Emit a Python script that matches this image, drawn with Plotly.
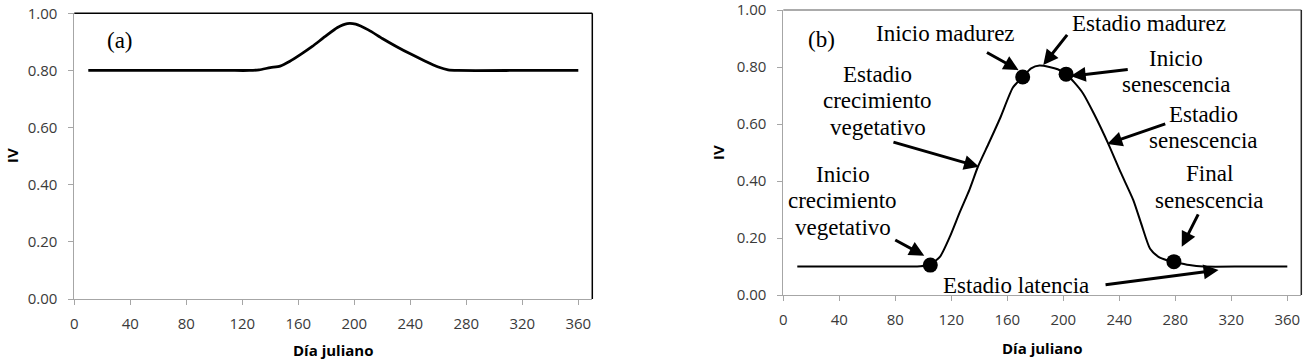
import plotly.graph_objects as go

# ---------------- data ----------------
days_a = [10, 60, 110, 125, 132, 140, 147, 154, 162, 170, 179, 188, 195, 201, 210, 220, 230, 240, 250, 260, 267, 274, 320, 360]
iv_a = [0.80, 0.80, 0.80, 0.80, 0.802, 0.81, 0.815, 0.832, 0.857, 0.884, 0.918, 0.950, 0.964, 0.962, 0.942, 0.912, 0.884, 0.858, 0.834, 0.812, 0.802, 0.80, 0.80, 0.80]

days_b = [10, 60, 90, 98, 105, 112, 119, 126, 133, 139, 147, 155, 164, 171, 177, 183, 190, 196, 202, 208, 214, 222, 232, 241, 250, 256, 262, 268, 274, 280, 290, 300, 330, 360]
iv_b = [0.10, 0.10, 0.10, 0.101, 0.107, 0.135, 0.205, 0.29, 0.37, 0.45, 0.535, 0.622, 0.728, 0.765, 0.795, 0.805, 0.80, 0.792, 0.775, 0.745, 0.708, 0.635, 0.532, 0.43, 0.333, 0.245, 0.162, 0.134, 0.122, 0.115, 0.105, 0.10, 0.10, 0.10]

pts_day = [105, 171, 202, 279]
pts_iv = [0.105, 0.765, 0.775, 0.117]

x_ticks = [0, 40, 80, 120, 160, 200, 240, 280, 320, 360]
y_ticks = [0.0, 0.2, 0.4, 0.6, 0.8, 1.0]

labels_text = ["Inicio madurez", "Estadio madurez", "Inicio<br>senescencia",
               "Estadio<br>senescencia", "Final<br>senescencia", "Estadio latencia",
               "Estadio<br>crecimiento<br>vegetativo", "Inicio<br>crecimiento<br>vegetativo"]
labels_x = [115.8, 261.2, 280.5, 299.8, 304.1, 165.9, 67.6, 42.3]
labels_y = [0.919, 0.951, 0.784, 0.588, 0.379, 0.032, 0.682, 0.330]

arrow_tail_x = [144.4, 203.6, 247.1, 273.9, 296.9, 229.1, 77.6, 78.9]
arrow_tail_y = [0.854, 0.918, 0.792, 0.602, 0.288, 0.035, 0.538, 0.196]
arrow_tip_x = [168.1, 185.7, 205.3, 231.4, 284.6, 310.9, 139.8, 100.7]
arrow_tip_y = [0.789, 0.807, 0.768, 0.530, 0.169, 0.088, 0.450, 0.138]

W, H = 1306, 363


def px_x(p):
    return p / W


def px_y(p):
    return 1 - p / H


fig = go.Figure()
fig.add_trace(go.Scatter(x=days_a, y=iv_a, mode="lines", xaxis="x", yaxis="y",
                         line=dict(color="black", width=2.8, shape="spline", smoothing=0.6),
                         showlegend=False, hoverinfo="skip"))
fig.add_trace(go.Scatter(x=days_b, y=iv_b, mode="lines", xaxis="x2", yaxis="y2",
                         line=dict(color="black", width=2, shape="spline", smoothing=0.6),
                         showlegend=False, hoverinfo="skip"))
fig.add_trace(go.Scatter(x=pts_day, y=pts_iv, mode="markers", xaxis="x2", yaxis="y2",
                         marker=dict(color="black", size=15),
                         showlegend=False, hoverinfo="skip"))

tick_font = dict(family="Open Sans", size=15, color="#3a3a3a")
axis_common = dict(showgrid=False, zeroline=False, showline=True, linecolor="#a6a6a6",
                   linewidth=1, ticks="outside", ticklen=5, tickcolor="#a6a6a6",
                   tickfont=tick_font, automargin=False, fixedrange=True,
                   ticklabeloverflow="allow")

fig.update_layout(
    width=W, height=H,
    margin=dict(l=0, r=0, t=0, b=0),
    paper_bgcolor="white", plot_bgcolor="white",
    hovermode=False,
    xaxis=dict(domain=[px_x(74.3), px_x(592.3)], range=[0, 370], tickvals=x_ticks,
               anchor="y", ticklabelstandoff=6, **axis_common),
    yaxis=dict(domain=[px_y(299), px_y(13.3)], range=[0, 1], tickvals=y_ticks,
               tickformat=".2f", anchor="x", ticklabelstandoff=8, **axis_common),
    xaxis2=dict(domain=[px_x(783.3), px_x(1301.3)], range=[0, 370], tickvals=x_ticks,
                anchor="y2", ticklabelstandoff=6, **axis_common),
    yaxis2=dict(domain=[px_y(295), px_y(10)], range=[0, 1], tickvals=y_ticks,
                tickformat=".2f", anchor="x2", ticklabelstandoff=8, **axis_common),
)

# plot-area borders (top and right)
fig.add_shape(type="line", xref="x domain", yref="y domain", x0=0, x1=1, y0=1, y1=1,
              line=dict(color="black", width=1.5))
fig.add_shape(type="line", xref="x domain", yref="y domain", x0=1, x1=1, y0=0, y1=1,
              line=dict(color="black", width=1.5))
fig.add_shape(type="line", xref="x2 domain", yref="y2 domain", x0=0, x1=1, y0=1, y1=1,
              line=dict(color="#595959", width=1.2))
fig.add_shape(type="line", xref="x2 domain", yref="y2 domain", x0=1, x1=1, y0=0, y1=1,
              line=dict(color="#262626", width=1.5))

serif = dict(family="Liberation Serif", size=23, color="black")
title_font = dict(family="Open Sans", size=15, color="black", weight="bold")
LINE_STEP = 26.5 / 285.0  # vertical spacing between label lines, in IV units

annotations = []
# panel letters
annotations.append(dict(text="(a)", x=32.3, y=0.906, xref="x", yref="y", showarrow=False,
                        xanchor="center", yanchor="middle",
                        font=dict(family="Liberation Serif", size=23, color="black")))
annotations.append(dict(text="(b)", x=27.2, y=0.898, xref="x2", yref="y2", showarrow=False,
                        xanchor="center", yanchor="middle",
                        font=dict(family="Liberation Serif", size=23, color="black")))
# axis titles
for t, x, y, ang in [("IV", 12, 156, -90), ("IV", 718, 153, -90),
                     ("Día juliano", 333, 350, 0), ("Día juliano", 1042, 348, 0)]:
    annotations.append(dict(text=t, x=px_x(x), y=px_y(y), xref="paper", yref="paper",
                            xanchor="center", yanchor="middle",
                            textangle=ang, showarrow=False, font=title_font))
# stage labels (one annotation per line for tight line spacing)
for t, lx, ly in zip(labels_text, labels_x, labels_y):
    lines = t.split("<br>")
    n = len(lines)
    for i, line in enumerate(lines):
        yy = ly + ((n - 1) / 2 - i) * LINE_STEP
        annotations.append(dict(text=line, x=lx, y=yy, xref="x2", yref="y2", showarrow=False,
                                xanchor="center", yanchor="middle", font=serif))
# arrows
for tx, ty, hx, hy in zip(arrow_tail_x, arrow_tail_y, arrow_tip_x, arrow_tip_y):
    annotations.append(dict(text="", x=hx, y=hy, xref="x2", yref="y2",
                            ax=tx, ay=ty, axref="x2", ayref="y2",
                            showarrow=True, arrowhead=2, arrowsize=1, arrowwidth=3,
                            arrowcolor="black", standoff=0))

fig.update_layout(annotations=annotations)

# remove the browser's default body margin so the figure sits at the window origin
fig.write_html("out.html",
               config={"displayModeBar": False, "staticPlot": True},
               post_script="document.body.style.margin='0';document.body.style.overflow='hidden';")
